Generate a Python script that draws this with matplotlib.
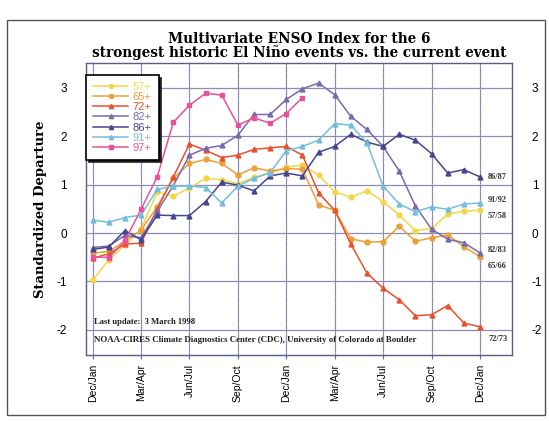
import matplotlib
matplotlib.use("Agg")
import matplotlib.pyplot as plt
from matplotlib.patches import Rectangle

plt.rcParams["axes.unicode_minus"] = False

# bimonthly seasons, Dec/Jan of year 0 to Dec/Jan of year +2
season_ticks = [0, 3, 6, 9, 12, 15, 18, 21, 24]
season_labels = ["Dec/Jan", "Mar/Apr", "Jun/Jul", "Sep/Oct", "Dec/Jan",
                 "Mar/Apr", "Jun/Jul", "Sep/Oct", "Dec/Jan"]

names = ["57+", "65+", "72+", "82+", "86+", "91+", "97+"]
end_labels = ["57/58", "65/66", "72/73", "82/83", "86/87", "91/92", None]

mei_57 = [-0.98, -0.55, -0.25, 0.08, 0.85, 0.76, 0.93, 1.13, 1.1, 1.02, 1.15, 1.23,
          1.37, 1.4, 1.2, 0.85, 0.74, 0.87, 0.65, 0.37, 0.05, 0.09, 0.39, 0.45, 0.47]
mei_65 = [-0.42, -0.38, -0.17, 0.06, 0.54, 1.13, 1.44, 1.52, 1.44, 1.2, 1.35, 1.28,
          1.33, 1.32, 0.58, 0.47, -0.12, -0.19, -0.18, 0.14, -0.17, -0.1, -0.04, -0.28, -0.49]
mei_72 = [-0.52, -0.43, -0.23, -0.21, 0.5, 1.16, 1.84, 1.71, 1.56, 1.61, 1.73, 1.76,
          1.79, 1.61, 0.83, 0.47, -0.23, -0.83, -1.14, -1.38, -1.71, -1.69, -1.5, -1.86, -1.94]
mei_82 = [-0.3, -0.27, -0.05, -0.1, 0.45, 0.98, 1.61, 1.75, 1.81, 2.02, 2.45, 2.45,
          2.76, 2.98, 3.1, 2.86, 2.41, 2.14, 1.79, 1.28, 0.56, 0.08, -0.13, -0.2, -0.41]
mei_86 = [-0.34, -0.29, 0.05, -0.14, 0.37, 0.36, 0.36, 0.65, 1.05, 0.99, 0.87, 1.18,
          1.24, 1.18, 1.67, 1.79, 2.04, 1.88, 1.79, 2.04, 1.92, 1.64, 1.24, 1.31, 1.16]
mei_91 = [0.27, 0.22, 0.32, 0.37, 0.9, 0.97, 0.97, 0.94, 0.62, 0.97, 1.13, 1.25,
          1.7, 1.79, 1.92, 2.26, 2.23, 1.86, 0.97, 0.6, 0.44, 0.54, 0.49, 0.6, 0.62]
mei_97 = [-0.49, -0.51, -0.16, 0.49, 1.16, 2.29, 2.64, 2.89, 2.85, 2.23, 2.38, 2.27,
          2.47, 2.8]

series = [mei_57, mei_65, mei_72, mei_82, mei_86, mei_91, mei_97]
colors = ["#f2d64a", "#eca035", "#e8502e", "#7a6aac", "#45478e", "#72bedc", "#e8529c"]
markers = ["o", "o", "^", "^", "^", "^", "s"]

fig = plt.figure(figsize=(5.49, 4.21), dpi=100)
ax = fig.add_axes([0.157, 0.157, 0.776, 0.694])

for vals, name, c, m in zip(series, names, colors, markers):
    ax.plot(range(len(vals)), vals, color=c, marker=m, markersize=3.5,
            linewidth=1.1, label=name, zorder=3)

ax.set_xlim(-0.4, 26)
ax.set_ylim(-2.52, 3.52)
ax.set_xticks(season_ticks)
ax.set_xticklabels(season_labels, rotation=90, fontsize=7.5, family="Liberation Sans")
ax.set_yticks([-2, -1, 0, 1, 2, 3])
ax.tick_params(axis="y", labelsize=8.5, length=0, labelright=True, pad=14)
ax.tick_params(axis="x", length=3, color="#6a6aa0")
for lab in ax.yaxis.get_ticklabels(which="both"):
    lab.set_family("Liberation Sans")

# horizontal grid solid, vertical grid light line with fine dots on top
ax.grid(axis="y", color="#8c8cba", linewidth=0.9, linestyle="-")
for t in season_ticks:
    ax.axvline(t, color="#a8a8cc", linewidth=0.9, zorder=1)
    ax.axvline(t, color="#50508a", linewidth=0.7, linestyle=(0, (0.6, 1.2)), zorder=1)
ax.set_axisbelow(True)
for sp in ax.spines.values():
    sp.set_color("#5a5a90")
    sp.set_linewidth(1.0)

ax.set_ylabel("Standardized Departure", fontsize=9.5, fontweight="bold",
              family="DejaVu Serif", labelpad=7)
fig.suptitle("Multivariate ENSO Index for the 6\n"
             "strongest historic El Niño events vs. the current event",
             x=0.545, y=0.925, fontsize=9.8, fontweight="bold",
             family="DejaVu Serif", linespacing=1.0)

# labels at the end of each finished event
offsets = {"57/58": -0.12, "91/92": 0.06, "65/66": -0.2, "82/83": 0.05,
           "72/73": -0.25, "86/87": 0.0}
for vals, lab in zip(series, end_labels):
    if lab is None:
        continue
    ax.text(24.5, vals[-1] + offsets[lab], lab, fontsize=6, fontweight="bold",
            family="Liberation Serif", va="center", ha="left", color="#333333")

ax.text(0.1, -1.84, "Last update:  3 March 1998", fontsize=6.2, fontweight="bold",
        family="Liberation Serif", va="center", color="#222222")
ax.text(0.1, -2.22, "NOAA-CIRES Climate Diagnostics Center (CDC), University of Colorado at Boulder",
        fontsize=6.4, fontweight="bold", family="Liberation Serif", va="center",
        color="#222222")

leg = ax.legend(loc="upper left", bbox_to_anchor=(0.0, 0.958), borderaxespad=0,
                fontsize=8, handlelength=3.2, handletextpad=0.4, labelspacing=0.02,
                frameon=True, fancybox=False, edgecolor="black", framealpha=1,
                shadow={"color": "#202020", "alpha": 1.0}, borderpad=0.6)
leg.get_frame().set_linewidth(1.2)
for txt, c in zip(leg.get_texts(), colors):
    txt.set_color(c)
    txt.set_family("Liberation Sans")
for h in leg.get_lines():
    h.set_markersize(3)

# outer frame of the scanned page
fig.patches.append(Rectangle((7 / 549, 1 - 415 / 421), 538 / 549, 395 / 421,
                             transform=fig.transFigure, fill=False,
                             edgecolor="#555555", linewidth=1.0))

fig.savefig("out.png", dpi=100)
